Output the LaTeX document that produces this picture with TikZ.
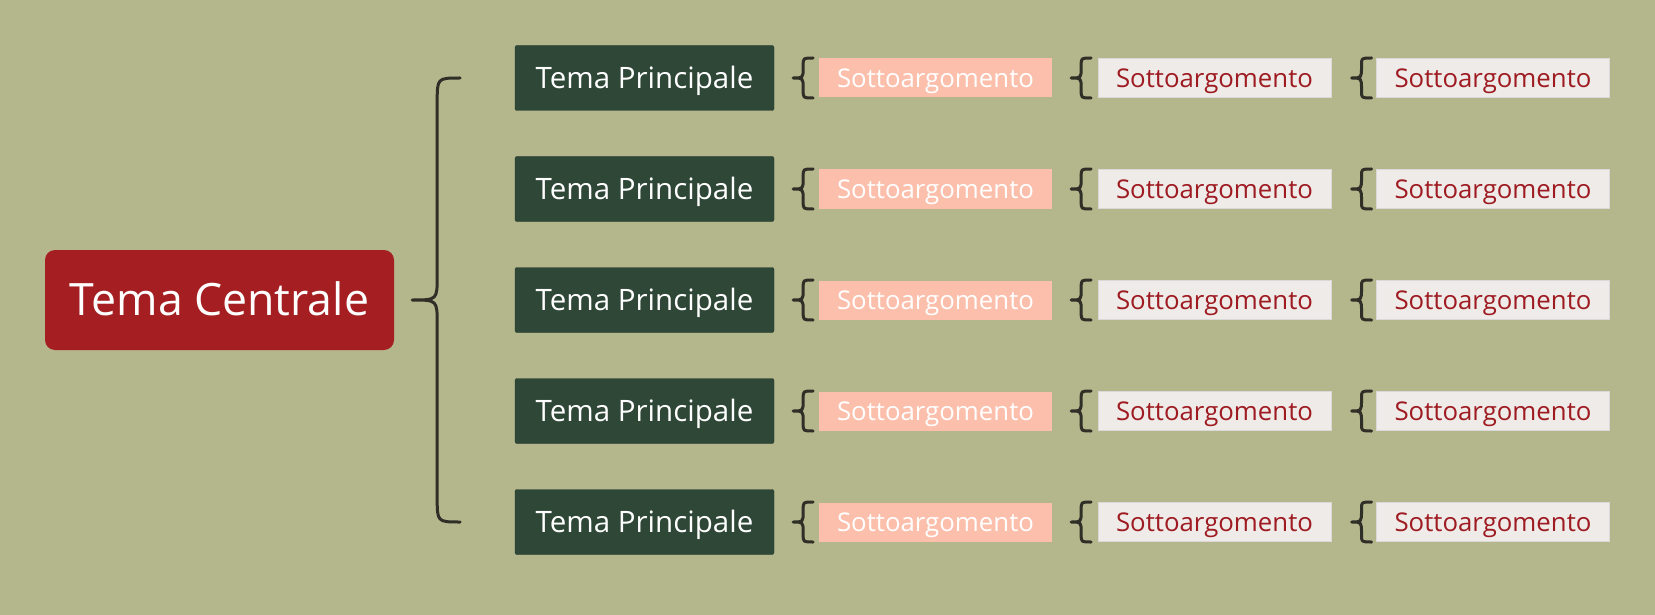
\documentclass[tikz,border=0pt]{standalone}
\usepackage{tikz}
\usetikzlibrary{calc}
\usepackage{fontspec}
\setmainfont{Open Sans}
\usepackage{xcolor}

\definecolor{bgcol}{HTML}{B4B68C}
\definecolor{redcol}{HTML}{A51E21}
\definecolor{greencol}{HTML}{2E4737}
\definecolor{salmoncol}{HTML}{FBBFAB}
\definecolor{lightcol}{HTML}{EFEBE8}
\definecolor{textred}{HTML}{9E1B22}
\definecolor{bracecol}{HTML}{2F2F27}

%curly brace: tip, width, half height, stem offset, end radius, tip radius
\newcommand{\curly}[6]{%
\draw[brc] ($(#1)+(#2,-#3)$) .. controls ($(#1)+(#4,-#3)$) .. ($(#1)+(#4,-#3+#5)$)
  -- ($(#1)+(#4,-#6)$) .. controls ($(#1)+(#4,0)$) .. (#1)
  .. controls ($(#1)+(#4,0)$) .. ($(#1)+(#4,#6)$)
  -- ($(#1)+(#4,#3-#5)$) .. controls ($(#1)+(#4,#3)$) .. ($(#1)+(#2,#3)$);}

\begin{document}
\begin{tikzpicture}
[x=1pt,y=-1pt,
central/.style={fill=redcol,rounded corners=10pt,inner sep=0pt,minimum width=349pt,minimum height=100pt,text=white,text height=31.8pt,text depth=0pt,font=\fontsize{44.6}{50}\selectfont},
maintopic/.style={fill=greencol,draw=greencol!85!black,rounded corners=2pt,inner sep=0pt,minimum width=259pt,minimum height=65pt,text=white,text height=21pt,text depth=0pt,font=\fontsize{29.5}{36}\selectfont},
subpink/.style={fill=salmoncol,inner sep=0pt,minimum width=233pt,minimum height=39pt,text=white,text height=18.4pt,text depth=0pt,font=\fontsize{25.8}{30}\selectfont},
sublight/.style={fill=lightcol,draw=black!15,line width=1pt,inner sep=0pt,minimum width=233pt,minimum height=39pt,text=textred,text height=18.4pt,text depth=0pt,font=\fontsize{25.8}{30}\selectfont},
brc/.style={draw=bracecol,line width=3pt,line cap=round,line join=round},]

%Background
\fill[bgcol] (0,0) rectangle (1655,615);

%Central topic
\node (C) at (219.5,300)[central] {Tema Centrale};
\coordinate (tc) at ($(C.east)+(18,0)$);
\curly{tc}{48}{222}{25}{24}{24}

%Main topics and subtopics
\foreach \r in {1,...,5}{
  \pgfmathsetmacro{\yy}{78+111*(\r-1)}
  \node (P\r) at (644.5,\yy)[maintopic] {Tema Principale};
  \node (A\r) at (935.5,\yy)[subpink] {Sottoargomento};
  \node (B\r) at (1214.5,\yy)[sublight] {Sottoargomento};
  \node (D\r) at (1493,\yy)[sublight] {Sottoargomento};
  \coordinate (ta\r) at ($(P\r.east)+(19,0)$);
  \coordinate (tb\r) at ($(A\r.east)+(19,0)$);
  \coordinate (td\r) at ($(B\r.east)+(20,0)$);
  \curly{ta\r}{20}{20}{10}{7}{11}
  \curly{tb\r}{20}{20}{10}{7}{11}
  \curly{td\r}{20}{20}{10}{7}{11}
}

\end{tikzpicture}
\end{document}
